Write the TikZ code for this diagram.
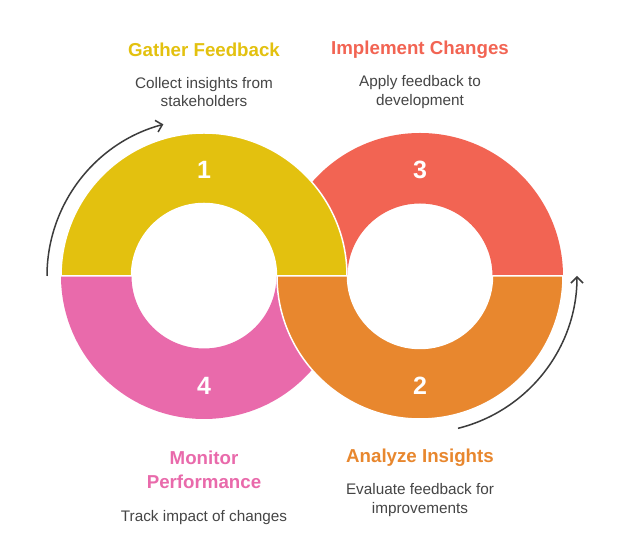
\documentclass[tikz,border=0pt]{standalone}
\usepackage{fontspec}
\setmainfont{Liberation Sans}
\usetikzlibrary{arrows.meta}
\definecolor{cyel}{HTML}{E3C10F}
\definecolor{cred}{HTML}{F26453}
\definecolor{cpink}{HTML}{E96AAB}
\definecolor{corange}{HTML}{E8872E}
\definecolor{cgray}{HTML}{454545}
\definecolor{carrow}{HTML}{3C3C3C}
\begin{document}
\begin{tikzpicture}[x=1pt,y=1pt,
  seg/.style={line width=1.5pt, draw=white, line join=round},
  num/.style={text=white, font=\fontsize{25}{28}\selectfont\bfseries},
  ttl/.style={font=\fontsize{18.7}{24}\selectfont\bfseries, align=center},
  body/.style={font=\fontsize{15.3}{18.3}\selectfont, text=cgray, align=center},
  cyc/.style={draw=carrow, line width=1.5pt, -{Straight Barb[length=6pt,width=12pt]}}]
\useasboundingbox[fill=white] (0,0) rectangle (624,556);
\coordinate (L) at (204,280);
\coordinate (R) at (420,280);
% back halves
\fill[cred] (277,280) arc[start angle=180,end angle=0,radius=143] -- (492.5,280) arc[start angle=0,end angle=180,radius=72.5] -- cycle;
\fill[cpink] (61,280) arc[start angle=180,end angle=360,radius=143] -- (276.5,280) arc[start angle=360,end angle=180,radius=72.5] -- cycle;
% front halves
\filldraw[seg, fill=cyel] (61,280) arc[start angle=180,end angle=0,radius=143] -- (276.5,280) arc[start angle=0,end angle=180,radius=72.5] -- cycle;
\filldraw[seg, fill=corange] (277,280) arc[start angle=180,end angle=360,radius=143] -- (492.5,280) arc[start angle=360,end angle=180,radius=72.5] -- cycle;
% numbers
\node[num] (n1) at (204,386) {1};
\node[num] (n4) at (204,170) {4};
\node[num] (n3) at (420,386) {3};
\node[num] (n2) at (420,170) {2};
% cycle arrows
\draw[cyc] (L) ++(180:157) arc[start angle=180,end angle=105,radius=157];
\draw[cyc] (R) ++(-76:157) arc[start angle=-76,end angle=0,radius=157];
% texts
\node[ttl, text=cyel] (t1) at (204,506) {Gather Feedback};
\node[body] (b1) at (204,464) {Collect insights from\\stakeholders};
\node[ttl, text=cred] (t3) at (420,506) {Implement Changes};
\node[body] (b3) at (420,464) {Apply feedback to\\development};
\node[ttl, text=cpink] (t4) at (204,86) {Monitor\\Performance};
\node[body] (b4) at (204,38) {Track impact of changes};
\node[ttl, text=corange] (t2) at (420,98) {Analyze Insights};
\node[body] (b2) at (420,56) {Evaluate feedback for\\improvements};
\end{tikzpicture}
\end{document}
